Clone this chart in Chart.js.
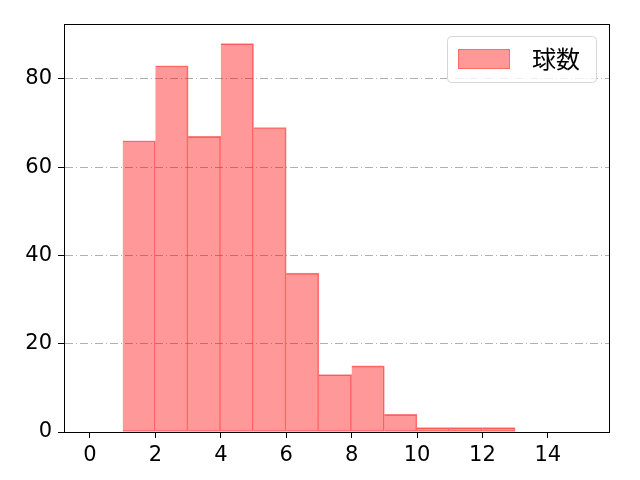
<!DOCTYPE html>
<html>
<head>
<meta charset="utf-8">
<script src="https://cdn.jsdelivr.net/npm/chart.js@4/dist/chart.umd.min.js"></script>
<style>
  html, body { margin: 0; padding: 0; background: white; }
  #wrap { width: 640px; height: 480px; }
</style>
</head>
<body>
<div id="wrap"><canvas id="chart" width="640" height="480"></canvas></div>
<script>
// histogram bins (left edge) and counts
const binStarts = [0, 1, 2, 3, 4, 5, 6, 7, 8, 9, 10, 11, 12, 13, 14];
const counts = [0, 66, 83, 67, 88, 69, 36, 13, 15, 4, 1, 1, 1, 0, 0];
const xTicks = [0, 2, 4, 6, 8, 10, 12, 14];
const yTicks = [0, 20, 40, 60, 80];
const seriesLabel = '球数';

const TICK_FONT = '"DejaVu Sans", "Noto Sans CJK JP", sans-serif';
const CJK_FONT = '"Noto Sans CJK JP", "Noto Sans", sans-serif';

const points = binStarts.map((b, i) => ({ x: b + 0.5, y: counts[i] }));

// box around the plot + matplotlib-like legend
const framePlugin = {
    id: 'frame',
    afterDraw(chart) {
        const { ctx, chartArea: a } = chart;
        ctx.save();
        ctx.strokeStyle = '#000';
        ctx.lineWidth = 1;
        ctx.strokeRect(a.left + 0.5, a.top + 0.5, a.right - a.left, a.bottom - a.top);

        // legend
        const lx = 447.5, ly = 36.5, lw = 149, lh = 46, r = 4;
        ctx.beginPath();
        ctx.moveTo(lx + r, ly);
        ctx.arcTo(lx + lw, ly, lx + lw, ly + lh, r);
        ctx.arcTo(lx + lw, ly + lh, lx, ly + lh, r);
        ctx.arcTo(lx, ly + lh, lx, ly, r);
        ctx.arcTo(lx, ly, lx + lw, ly, r);
        ctx.closePath();
        ctx.fillStyle = 'rgba(255,255,255,0.8)';
        ctx.fill();
        ctx.strokeStyle = '#d6d6d6';
        ctx.stroke();

        ctx.fillStyle = 'rgba(255,0,0,0.4)';
        ctx.fillRect(458, 49, 52, 20);
        ctx.strokeStyle = 'rgba(255,0,0,0.3)';
        ctx.strokeRect(458.5, 49.5, 51, 19);

        ctx.fillStyle = '#000';
        ctx.font = '24px ' + CJK_FONT;
        ctx.textBaseline = 'middle';
        ctx.textAlign = 'left';
        ctx.fillText(seriesLabel, 532, 59);
        ctx.restore();
    }
};

new Chart(document.getElementById('chart'), {
    type: 'bar',
    data: {
        datasets: [{
            label: seriesLabel,
            data: points,
            backgroundColor: 'rgba(255,0,0,0.4)',
            borderColor: 'rgba(255,0,0,0.5)',
            borderWidth: 1,
            barPercentage: 1.0,
            categoryPercentage: 1.0,
            borderSkipped: 'left'
        }]
    },
    options: {
        responsive: false,
        animation: false,
        events: [],
        layout: { padding: { left: 0, right: 31, top: 24, bottom: 0 } },
        plugins: {
            legend: { display: false },
            tooltip: { enabled: false }
        },
        scales: {
            x: {
                type: 'linear',
                offset: false,
                min: -0.795,
                max: 15.87,
                afterBuildTicks: (axis) => { axis.ticks = xTicks.map(v => ({ value: v })); },
                ticks: { color: '#000', font: { family: TICK_FONT, size: 21 }, padding: 5, maxRotation: 0 },
                grid: { offset: false, drawOnChartArea: false, drawTicks: true, tickLength: 6, tickColor: '#000' },
                border: { color: '#000', width: 1 },
                afterFit: (axis) => { axis.height = 48; }
            },
            y: {
                min: 0,
                max: 92.46,
                afterBuildTicks: (axis) => { axis.ticks = yTicks.map(v => ({ value: v })); },
                ticks: { color: '#000', font: { family: TICK_FONT, size: 21 }, padding: 6 },
                grid: {
                    color: (c) => c.tick && c.tick.value === 0 ? 'rgba(0,0,0,0)' : '#b0b0b0',
                    drawTicks: true,
                    tickLength: 6,
                    tickColor: '#000',
                    tickBorderDash: []
                },
                border: { color: '#000', width: 1, dash: [8, 3, 1, 3] },
                afterFit: (axis) => { axis.width = 64; }
            }
        }
    },
    plugins: [framePlugin]
});
</script>
</body>
</html>
